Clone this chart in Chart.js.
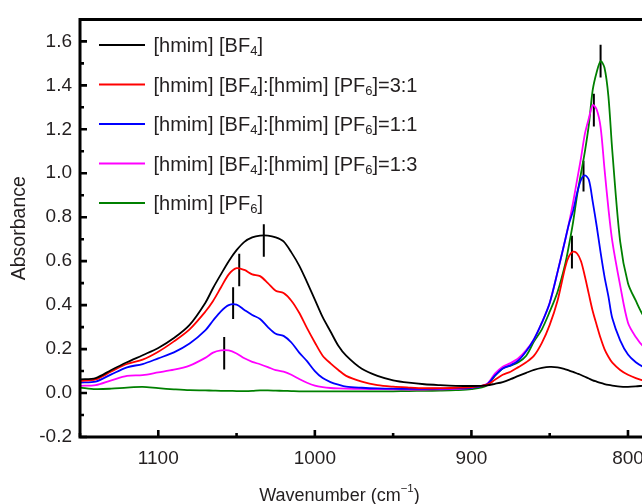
<!DOCTYPE html>
<html><head><meta charset="utf-8">
<script src="https://cdn.jsdelivr.net/npm/chart.js@4.4.1/dist/chart.umd.min.js"></script>
<style>
html,body{margin:0;padding:0;overflow:hidden;background:#fff;width:642px;height:504px}
#wrap{position:relative;width:720px;height:504px}
</style>
</head><body><div id="wrap"><canvas id="c" width="720" height="504"></canvas></div>
<script>
// ---- data ----
const wavenumbers = [1150,1140,1130,1120,1110,1100,1090,1080,1070,1065,1060,1055,1050,1045,1040,1035,1030,1025,1020,1015,1010,1005,1000,995,990,985,980,970,960,950,940,930,920,910,900,890,885,880,875,870,865,860,855,850,845,840,837.5,835,832.5,830,827.5,825,822.5,820,817.5,815,812.5,810,805,800,795,790,780];
const bf4 = [0.062,0.068,0.105,0.14,0.172,0.205,0.25,0.31,0.41,0.478,0.54,0.60,0.65,0.688,0.708,0.716,0.716,0.708,0.69,0.64,0.58,0.505,0.425,0.345,0.28,0.215,0.17,0.11,0.078,0.058,0.047,0.040,0.036,0.033,0.032,0.035,0.042,0.05,0.063,0.078,0.092,0.105,0.114,0.119,0.117,0.108,0.102,0.096,0.089,0.082,0.074,0.066,0.058,0.052,0.046,0.041,0.037,0.034,0.029,0.028,0.03,0.034,0.04];
const mix31 = [0.055,0.062,0.098,0.132,0.152,0.188,0.235,0.29,0.37,0.419,0.48,0.54,0.568,0.56,0.54,0.532,0.50,0.465,0.455,0.42,0.365,0.295,0.23,0.17,0.135,0.105,0.078,0.052,0.036,0.029,0.025,0.022,0.022,0.024,0.027,0.038,0.06,0.083,0.097,0.118,0.14,0.17,0.228,0.31,0.42,0.575,0.625,0.643,0.635,0.6,0.53,0.45,0.372,0.31,0.25,0.2,0.165,0.138,0.105,0.083,0.068,0.057,0.045];
const mix11 = [0.048,0.052,0.085,0.117,0.132,0.158,0.185,0.225,0.285,0.33,0.372,0.4,0.402,0.378,0.355,0.337,0.30,0.27,0.26,0.23,0.184,0.145,0.1,0.068,0.05,0.038,0.029,0.024,0.021,0.02,0.019,0.019,0.02,0.021,0.024,0.04,0.08,0.112,0.126,0.148,0.19,0.245,0.32,0.41,0.55,0.70,0.775,0.83,0.91,0.97,0.99,0.97,0.87,0.76,0.64,0.53,0.44,0.34,0.24,0.175,0.14,0.118,0.085];
const mix13 = [0.033,0.036,0.058,0.078,0.082,0.094,0.106,0.125,0.16,0.184,0.194,0.194,0.18,0.158,0.142,0.131,0.118,0.104,0.097,0.083,0.064,0.047,0.034,0.027,0.023,0.021,0.02,0.019,0.018,0.017,0.016,0.016,0.017,0.019,0.024,0.042,0.088,0.12,0.136,0.158,0.195,0.245,0.32,0.41,0.55,0.70,0.78,0.87,0.97,1.07,1.18,1.25,1.31,1.29,1.21,1.02,0.84,0.69,0.49,0.32,0.255,0.21,0.15];
const pf6 = [0.025,0.018,0.02,0.025,0.028,0.022,0.017,0.013,0.012,0.011,0.01,0.01,0.009,0.009,0.01,0.012,0.012,0.011,0.01,0.009,0.008,0.008,0.008,0.008,0.008,0.008,0.008,0.008,0.008,0.008,0.009,0.01,0.011,0.013,0.018,0.035,0.078,0.112,0.125,0.14,0.17,0.235,0.29,0.37,0.46,0.59,0.68,0.78,0.9,1.0,1.1,1.22,1.38,1.46,1.51,1.48,1.35,1.1,0.69,0.5,0.42,0.35,0.26];
const seriesLabels = ['[hmim] [BF_4]','[hmim] [BF_4]:[hmim] [PF_6]=3:1','[hmim] [BF_4]:[hmim] [PF_6]=1:1','[hmim] [BF_4]:[hmim] [PF_6]=1:3','[hmim] [PF_6]'];
const seriesColors = ['#000000','#ff0000','#0000ff','#ff00ff','#008000'];
// peak markers
const markerX = [1032.6,1048.3,1052.2,1057.9,835.8,828.4,821.8,817.5];
const markerTop = [0.768,0.634,0.481,0.255,0.716,1.057,1.362,1.585];
const markerBottom = [0.62,0.486,0.337,0.107,0.567,0.917,1.213,1.436];
// ticks
const xTickValues = [1100,1000,900,800];
const xMinorTicks = [1150,1050,950,850];
const yTickValues = [-0.2,0,0.2,0.4,0.6,0.8,1.0,1.2,1.4,1.6];
const yMinorTicks = [-0.1,0.1,0.3,0.5,0.7,0.9,1.1,1.3,1.5];

const FONT = '"Liberation Sans", Arial, Helvetica, sans-serif';
const TXT = '#231f20';

const seriesValues = [bf4, mix31, mix11, mix13, pf6];
const datasets = seriesValues.map((vals, i) => ({
  label: seriesLabels[i].replace(/_4/g,'\u2084').replace(/_6/g,'\u2086'),
  data: wavenumbers.map((w, j) => ({x: w, y: vals[j]})),
  borderColor: seriesColors[i], borderWidth: 1.8, pointRadius: 0, tension: 0.3, fill: false
}));
const markerData = [];
markerX.forEach((mx, i) => {
  markerData.push({x: mx, y: markerTop[i]}, {x: mx, y: markerBottom[i]}, {x: mx, y: null});
});
datasets.push({label: 'peaks', data: markerData, borderColor: '#000', borderWidth: 2, pointRadius: 0, spanGaps: false, tension: 0});

function richText(ctx, text, x, y, size, subSize, subDy) {
  const parts = text.split(/(_\d+)/);
  let w = 0;
  for (const p of parts) {
    if (!p) continue;
    let t = p, dy = 0, s = size;
    if (p[0] === '_') { t = p.slice(1); dy = subDy; s = subSize; }
    ctx.font = s + 'px ' + FONT;
    ctx.fillText(t, x + w, y + dy);
    w += ctx.measureText(t).width;
  }
  return w;
}

const framePlugin = {
  id: 'frame',
  afterDatasetsDraw(chart) {
    const {ctx, chartArea: a, scales: {x, y}} = chart;
    ctx.save();
    ctx.strokeStyle = '#000';
    ctx.lineCap = 'butt';
    ctx.lineWidth = 3;
    ctx.beginPath();
    ctx.moveTo(a.left - 1.5, a.top); ctx.lineTo(a.right, a.top);
    ctx.moveTo(a.left, a.top); ctx.lineTo(a.left, a.bottom);
    ctx.moveTo(a.left - 1.5, a.bottom); ctx.lineTo(a.right, a.bottom);
    ctx.stroke();
    ctx.lineWidth = 2.6;
    ctx.beginPath();
    xTickValues.forEach(v => { const p = x.getPixelForValue(v); ctx.moveTo(p, a.bottom); ctx.lineTo(p, a.bottom - 7); });
    xMinorTicks.forEach(v => { const p = x.getPixelForValue(v); ctx.moveTo(p, a.bottom); ctx.lineTo(p, a.bottom - 4); });
    yTickValues.forEach(v => { const p = y.getPixelForValue(v); ctx.moveTo(a.left, p); ctx.lineTo(a.left + 7, p); });
    yMinorTicks.forEach(v => { const p = y.getPixelForValue(v); ctx.moveTo(a.left, p); ctx.lineTo(a.left + 4, p); });
    ctx.stroke();

    // legend
    const rowY = [45, 84.5, 124, 163.5, 203];
    ctx.lineWidth = 2;
    ctx.fillStyle = TXT;
    ctx.textBaseline = 'alphabetic';
    ctx.textAlign = 'left';
    seriesLabels.forEach((lab, i) => {
      ctx.strokeStyle = seriesColors[i];
      ctx.beginPath(); ctx.moveTo(99, rowY[i]); ctx.lineTo(145, rowY[i]); ctx.stroke();
      richText(ctx, lab, 153.5, rowY[i] + 7.3, 20, 13, 3);
    });

    // x axis title with superscript
    const sz = 18, sup = 11.5;
    ctx.font = sz + 'px ' + FONT;
    const t1 = 'Wavenumber (cm', t2 = '\u22121', t3 = ')';
    const w1 = ctx.measureText(t1).width, w3 = ctx.measureText(t3).width;
    ctx.font = sup + 'px ' + FONT;
    const w2 = ctx.measureText(t2).width;
    let sx = 339.5 - (w1 + w2 + w3) / 2;
    const by = 500.5;
    ctx.font = sz + 'px ' + FONT; ctx.fillText(t1, sx, by);
    ctx.font = sup + 'px ' + FONT; ctx.fillText(t2, sx + w1, by - 9);
    ctx.font = sz + 'px ' + FONT; ctx.fillText(t3, sx + w1 + w2, by);
    ctx.restore();
  }
};

new Chart(document.getElementById('c'), {
  type: 'line',
  data: {datasets},
  options: {
    responsive: false, animation: false, devicePixelRatio: 1,
    layout: {padding: {top: 13, left: 0, right: 20, bottom: 0}},
    plugins: {legend: {display: false}, tooltip: {enabled: false}},
    scales: {
      x: {
        type: 'linear', reverse: true, min: 754, max: 1150,
        grid: {display: false, drawTicks: false}, border: {display: false},
        afterBuildTicks: s => { s.ticks = xTickValues.map(v => ({value: v})); },
        afterFit: s => { s.height = 67; },
        ticks: {padding: 10, color: TXT, font: {family: FONT, size: 19}, callback: v => String(v)}
      },
      y: {
        type: 'linear', min: -0.2, max: 1.7,
        grid: {display: false, drawTicks: false}, border: {display: false},
        afterBuildTicks: s => { s.ticks = yTickValues.map(v => ({value: v})); },
        afterFit: s => { s.width = 80; },
        ticks: {padding: 8, color: TXT, font: {family: FONT, size: 19}, callback: v => Number(v).toFixed(1)},
        title: {display: true, text: 'Absorbance', color: TXT, font: {family: FONT, size: 19.5}, padding: {top: 8.3, bottom: 0}}
      }
    }
  },
  plugins: [framePlugin]
});
</script>
</body></html>
